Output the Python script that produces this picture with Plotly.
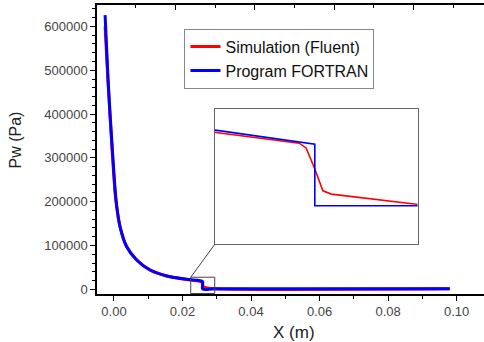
import plotly.graph_objects as go

# ---- data ----
blue_x = [-0.0026, -0.0017, -0.0004, 0.0006, 0.00175, 0.0037, 0.0066, 0.0105, 0.0154,
          0.0212, 0.02241, 0.02585, 0.02585, 0.0294, 0.098]
blue_y = [626000, 474000, 310000, 204000, 143000, 97000, 67000, 44000, 30400,
          22800, 21800, 17900, 1000, 1000, 1000]

red_x = [-0.0026, -0.0018, -0.0005, 0.0005, 0.00175, 0.0037, 0.0066, 0.0105, 0.0154,
         0.0212, 0.02257, 0.02531, 0.02555, 0.02584, 0.02613, 0.02642, 0.02936, 0.098]
red_y = [600000, 480000, 312000, 206000, 144000, 97500, 67500, 44500, 30500,
         22600, 21000, 18200, 16900, 11300, 5100, 4200, 1400, 1200]

red_name = "Simulation (Fluent)"
blue_name = "Program FORTRAN"
x_title = "X (m)"
y_title = "Pw (Pa)"

x_range = [-0.00496, 0.1080]
y_range = [-10700, 649000]
zoom_x = [0.0224, 0.0294]
zoom_y = [-9530, 27600]
inset_dom_x = [0.3049, 0.8282]
inset_dom_y = [0.173, 0.640]

RED = "#ff0000"
BLUE = "#0000ff"
FONT = "Liberation Sans, Arial, sans-serif"

fig = go.Figure()
fig.add_trace(go.Scatter(x=red_x, y=red_y, mode="lines", name=red_name,
                         line=dict(color=RED, width=3, shape="spline", smoothing=0.8)))
fig.add_trace(go.Scatter(x=blue_x, y=blue_y, mode="lines", name=blue_name,
                         line=dict(color=BLUE, width=3, shape="spline", smoothing=0.8)))
# inset
fig.add_trace(go.Scatter(x=red_x, y=red_y, mode="lines", showlegend=False,
                         line=dict(color=RED, width=1.6), xaxis="x3", yaxis="y3"))
fig.add_trace(go.Scatter(x=blue_x, y=blue_y, mode="lines", showlegend=False,
                         line=dict(color=BLUE, width=1.6), xaxis="x3", yaxis="y3"))
# top axis holder
fig.add_trace(go.Scatter(x=[], y=[], showlegend=False, xaxis="x2", yaxis="y"))

# connector line from zoom box corner to inset corner (converted to data coords)
cx = x_range[0] + inset_dom_x[0] * (x_range[1] - x_range[0])
cy = y_range[0] + inset_dom_y[0] * (y_range[1] - y_range[0])

fig.update_layout(
    width=484, height=342,
    margin=dict(l=97, r=0, t=5, b=48),
    paper_bgcolor="white", plot_bgcolor="white",
    font=dict(family=FONT, size=13, color="#333333"),
    showlegend=True,
    legend=dict(x=0.226, y=0.918, xanchor="left", yanchor="top",
                bgcolor="white", bordercolor="#888888", borderwidth=1,
                font=dict(family=FONT, size=16, color="#111111"),
                tracegroupgap=0, itemwidth=30),
    xaxis=dict(range=x_range, showgrid=False, zeroline=False,
               showline=True, linecolor="black", linewidth=1.5,
               ticks="outside", ticklen=5, tickwidth=1, tickcolor="black",
               tick0=0, dtick=0.02, tickformat=".2f",
               minor=dict(ticks="outside", ticklen=3, dtick=0.01, tick0=0, tickcolor="black"),
               tickfont=dict(size=13, color="#444444")),
    xaxis2=dict(overlaying="x", side="top", range=[0.025, 0.025 + 387 / 39.7],
                showgrid=False, zeroline=False, showline=True, linecolor="black", linewidth=1.5,
                ticks="inside", ticklen=5, tickcolor="black", tick0=0, dtick=2,
                minor=dict(ticks="inside", ticklen=3, dtick=1, tick0=0, tickcolor="black"),
                showticklabels=False),
    yaxis=dict(range=y_range, showgrid=False, zeroline=False,
               showline=True, linecolor="black", linewidth=1.5,
               ticks="outside", ticklen=5, tickwidth=1, tickcolor="black",
               tick0=0, dtick=100000, tickformat="d",
               minor=dict(ticks="outside", ticklen=3, dtick=20000, tick0=0, tickcolor="black"),
               tickfont=dict(size=13, color="#444444")),
    xaxis3=dict(domain=inset_dom_x, anchor="y3", range=zoom_x, showgrid=False, zeroline=False,
                showline=True, mirror=True, linecolor="#666666", linewidth=1,
                ticks="", showticklabels=False),
    yaxis3=dict(domain=inset_dom_y, anchor="x3", range=zoom_y, showgrid=False, zeroline=False,
                showline=True, mirror=True, linecolor="#666666", linewidth=1,
                ticks="", showticklabels=False),
    annotations=[
        dict(text=y_title, xref="paper", yref="paper", x=-0.2093, y=0.531,
             textangle=-90, showarrow=False, xanchor="center", yanchor="middle",
             font=dict(family=FONT, size=16, color="#222222")),
        dict(text=x_title, xref="paper", yref="paper", x=0.508, y=-0.1315,
             showarrow=False, xanchor="center", yanchor="middle",
             font=dict(family=FONT, size=17, color="#222222")),
    ],
    shapes=[
        dict(type="rect", xref="x", yref="y", x0=zoom_x[0], x1=zoom_x[1],
             y0=zoom_y[0], y1=zoom_y[1], line=dict(color="#444444", width=1)),
        dict(type="line", xref="x", yref="y", x0=zoom_x[0], y0=zoom_y[1],
             x1=cx, y1=cy, line=dict(color="#444444", width=1)),
    ],
)

fig.write_html("out.html")
